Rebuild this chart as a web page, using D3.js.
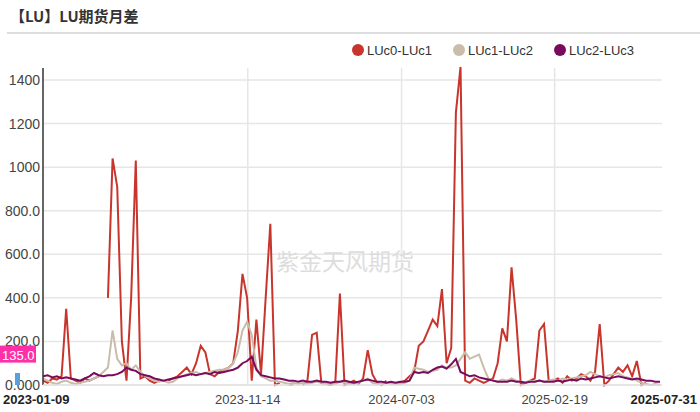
<!DOCTYPE html>
<html><head><meta charset="utf-8">
<script src="https://cdn.jsdelivr.net/npm/d3@7"></script>
<style>body{margin:0;background:#fff;font-family:"Liberation Sans",Arial,sans-serif}</style>
</head><body><div id="chart"></div>
<script>
var svgWidth = 700, svgHeight = 412;
var margin = {top: 80, right: 38, bottom: 27, left: 43};

// weekly samples starting 2023-01-09
var startDate = "2023-01-09";
var endDate = "2025-07-31";
var seriesNames = ["LUc0-LUc1", "LUc1-LUc2", "LUc2-LUc3"];
var seriesColors = ["#c8352d", "#c9bcaa", "#7a0b5c"];
var yTicks = [0, 200, 400, 600, 800, 1000, 1200, 1400];
var yTickLabels = ["0.000", "200.0", "400.0", "600.0", "800.0", "1000", "1200", "1400"];
var xTickDates = ["2023-11-14", "2024-07-03", "2025-02-19"];

var lu01 = [20,10,30,25,40,350,30,20,10,30,
  20,30,40,null,400,1040,910,200,20,400,
  1030,30,40,20,10,20,null,20,30,40,
  60,80,50,100,180,150,50,40,60,70,
  80,100,250,510,400,20,300,50,400,740,
  0,10,null,0,5,null,0,20,230,240,
  10,5,0,10,420,0,10,20,5,30,
  160,50,10,0,20,null,5,10,20,40,
  60,180,200,250,300,270,440,100,170,1250,
  1460,20,10,30,20,10,20,30,100,260,
  200,540,300,0,10,20,30,250,280,20,
  20,30,10,40,20,30,50,40,20,60,
  280,0,20,50,80,60,90,40,110,0,
  10,null,null,null];
var lu12 = [30,20,10,5,15,20,10,5,10,15,
  20,30,40,60,80,250,120,90,100,70,
  90,60,40,30,20,15,20,10,15,30,
  40,50,55,60,50,55,60,65,70,70,
  80,100,150,250,290,230,80,40,30,20,
  20,15,10,5,10,5,10,5,10,15,
  10,5,10,5,15,10,5,5,10,20,
  30,10,5,5,10,5,5,5,10,20,
  80,75,70,60,65,70,90,80,80,90,
  120,150,120,130,140,80,30,20,15,25,
  20,30,20,15,10,20,15,20,15,20,
  25,20,30,25,30,35,40,45,60,50,
  40,35,45,50,55,40,35,30,20,10,
  5,0,5,0];
var lu23 = [40,45,35,40,30,35,30,25,20,30,
  40,55,45,40,45,45,50,60,80,70,
  65,50,45,40,30,25,20,25,30,35,
  40,45,50,45,50,55,50,60,55,60,
  65,70,80,100,110,130,70,45,40,35,
  30,30,25,20,20,15,20,15,15,20,
  15,15,10,15,15,20,15,10,15,20,
  25,20,15,15,10,15,10,15,15,20,
  60,55,60,55,70,80,85,75,95,120,
  60,50,40,45,35,30,25,20,15,15,
  15,20,15,15,10,15,15,20,15,15,
  15,20,15,20,25,20,30,25,30,35,
  40,35,30,35,40,35,30,25,30,25,
  20,20,15,15];

var parse = d3.timeParse("%Y-%m-%d");
var fmt = d3.timeFormat("%Y-%m-%d");
var t0 = parse(startDate), t1 = parse(endDate);
var dates = lu01.map(function(d, i) { return d3.timeDay.offset(t0, i * 7); });
var allSeries = [lu01, lu12, lu23];

var chartWidth = svgWidth - margin.left - margin.right;
var chartHeight = svgHeight - margin.top - margin.bottom;

var svg = d3.select("#chart").append("svg")
    .attr("width", svgWidth).attr("height", svgHeight);

svg.append("text").attr("x", 10).attr("y", 22)
    .attr("font-size", 15).attr("font-weight", "bold").attr("fill", "#333")
    .attr("font-family", "'Noto Sans CJK SC',sans-serif")
    .text("【LU】LU期货月差");
svg.append("line").attr("x1", 7).attr("x2", 700).attr("y1", 33).attr("y2", 33)
    .attr("stroke", "#ddd").attr("stroke-width", 2);

var xScale = d3.scaleTime().domain([t0, t1]).range([0, chartWidth]);
var yScale = d3.scaleLinear().domain([0, 1400]).range([chartHeight, 0]);

var g = svg.append("g").attr("transform", `translate(${margin.left},${margin.top})`);

// grid
g.selectAll(".hg").data(yTicks.slice(1)).enter().append("line")
    .attr("x1", 0).attr("x2", chartWidth)
    .attr("y1", d => yScale(d)).attr("y2", d => yScale(d))
    .attr("stroke", "#e6e6e6").attr("stroke-width", 1.5);
g.selectAll(".vg").data(xTickDates).enter().append("line")
    .attr("x1", d => xScale(parse(d))).attr("x2", d => xScale(parse(d)))
    .attr("y1", -12).attr("y2", chartHeight)
    .attr("stroke", "#e6e6e6").attr("stroke-width", 1.5);

svg.append("text").attr("x", 345).attr("y", 270).attr("text-anchor", "middle")
    .attr("font-size", 23).attr("fill", "#ddd")
    .attr("font-family", "'Noto Sans CJK SC',sans-serif").text("紫金天风期货");

var line = d3.line()
    .defined(d => d[1] != null)
    .x(d => xScale(d[0])).y(d => yScale(d[1]));

allSeries.forEach(function(vals, k) {
  g.append("path")
    .datum(vals.map((v, i) => [dates[i], v]))
    .attr("d", line).attr("fill", "none")
    .attr("stroke", seriesColors[k]).attr("stroke-width", 2);
});

// axes
g.append("line").attr("x1", 0).attr("x2", 0).attr("y1", -12).attr("y2", chartHeight)
    .attr("stroke", "#333").attr("stroke-width", 1.5);
g.append("line").attr("x1", 0).attr("x2", chartWidth).attr("y1", chartHeight).attr("y2", chartHeight)
    .attr("stroke", "#ddd").attr("stroke-width", 1.5);

g.selectAll(".yl").data(yTicks).enter().append("text")
    .attr("x", -3).attr("y", d => yScale(d) + 5).attr("text-anchor", "end")
    .attr("font-size", 14).attr("fill", "#444")
    .text((d, i) => yTickLabels[i]);

// latest value marker
g.append("rect").attr("x", -43).attr("y", yScale(135) - 10).attr("width", 36).attr("height", 17)
    .attr("fill", "#ff2fa8");
g.append("text").attr("x", -41).attr("y", yScale(135) + 4).attr("font-size", 13)
    .attr("fill", "#fff").text("135.0");
g.append("rect").attr("x", -28).attr("y", chartHeight - 12).attr("width", 5).attr("height", 12)
    .attr("fill", "#5aa0dc");

var xl = [[startDate, 3, "start", "bold", "#222"]]
  .concat(xTickDates.map(d => [d, margin.left + xScale(parse(d)), "middle", "normal", "#444"]))
  .concat([[endDate, 697, "end", "bold", "#222"]]);
svg.selectAll(".xl").data(xl).enter().append("text")
    .attr("x", d => d[1]).attr("y", 404).attr("text-anchor", d => d[2])
    .attr("font-weight", d => d[3]).attr("fill", d => d[4]).attr("font-size", 13)
    .text(d => d[0]);

// legend
var lx = [358, 459, 560];
seriesNames.forEach(function(n, k) {
  svg.append("circle").attr("cx", lx[k]).attr("cy", 50).attr("r", 6).attr("fill", seriesColors[k]);
  svg.append("text").attr("x", lx[k] + 9).attr("y", 55).attr("font-size", 13)
    .attr("fill", "#333").text(n);
});
</script></body></html>
